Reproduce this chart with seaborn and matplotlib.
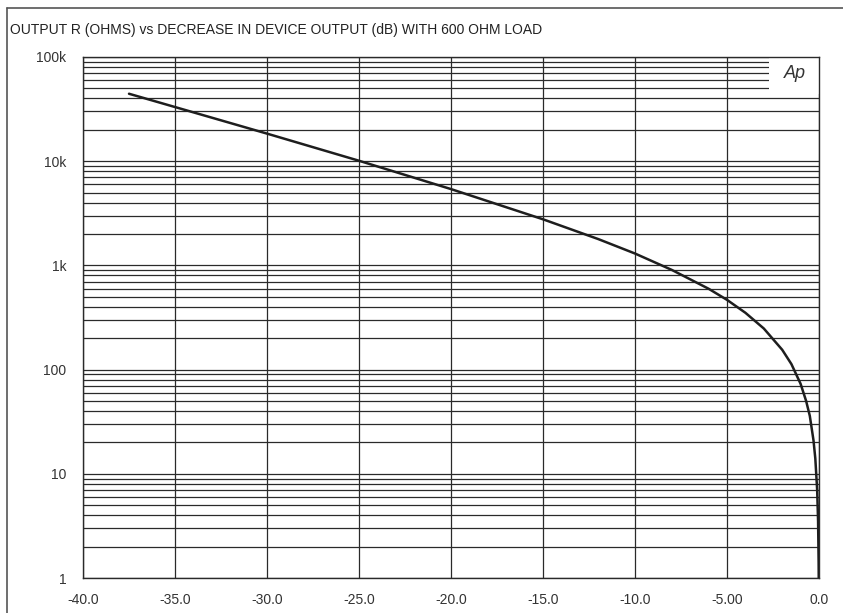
import matplotlib
matplotlib.use("Agg")
import matplotlib.pyplot as plt
from matplotlib.lines import Line2D
from matplotlib.patches import Rectangle
from matplotlib.ticker import FixedLocator, LogLocator, NullFormatter
import seaborn as sns
import pandas as pd

# Decrease in device output (dB) and the source resistance (ohms) that causes it
level_db = [-37.5, -35.0, -30.0, -25.0, -20.0, -15.0, -12.0, -10.0, -8.0, -6.0,
            -5.0, -4.0, -3.0, -2.0, -1.5, -1.0, -0.7, -0.5, -0.3, -0.2,
            -0.1, -0.05, -0.02, -0.0145]
output_r = [44400, 33100, 18400, 10100, 5400, 2770, 1790, 1300, 905, 597,
            467, 351, 248, 155, 113, 73, 50, 36, 21, 14,
            7.0, 3.5, 1.4, 1.0]

x_ticks = [-40, -35, -30, -25, -20, -15, -10, -5, 0]
x_labels = ["-40.0", "-35.0", "-30.0", "-25.0", "-20.0", "-15.0", "-10.0", "-5.00", "0.0"]
y_ticks = [1, 10, 100, 1000, 10000, 100000]
y_labels = ["1", "10", "100", "1k", "10k", "100k"]

title = "OUTPUT R (OHMS) vs DECREASE IN DEVICE OUTPUT (dB) WITH 600 OHM LOAD"

sns.set_theme(style="white")
plt.rcParams["font.family"] = ["Liberation Sans", "DejaVu Sans"]

W, H = 843, 613
fig = plt.figure(figsize=(W / 100, H / 100), dpi=100)
fig.patch.set_facecolor("white")

L, R, T, B = 83, 819, 57, 578
ax = fig.add_axes([L / W, (H - B) / H, (R - L) / W, (B - T) / H])

df = pd.DataFrame({"dB": level_db, "R": output_r})
sns.lineplot(data=df, x="dB", y="R", ax=ax, color="#1e1e1e", linewidth=1.8,
             estimator=None, sort=False, zorder=3)

ax.set_yscale("log")
ax.set_xlim(-40, 0)
ax.set_ylim(1, 1e5)

ax.xaxis.set_major_locator(FixedLocator(x_ticks))
ax.set_xticklabels(x_labels)
ax.yaxis.set_major_locator(FixedLocator(y_ticks))
ax.set_yticklabels(y_labels)
ax.yaxis.set_minor_locator(LogLocator(base=10, subs=range(2, 10)))
ax.yaxis.set_minor_formatter(NullFormatter())

ax.tick_params(axis="both", which="both", length=0, labelsize=10,
               labelcolor="#333333")
ax.tick_params(axis="x", pad=11)
ax.tick_params(axis="y", pad=12)
ax.set_xlabel("")
ax.set_ylabel("")

ax.set_axisbelow(True)
ax.grid(True, which="both", axis="y", color="#2a2a2a", linewidth=0.9)
ax.grid(True, which="major", axis="x", color="#2a2a2a", linewidth=0.9)

for s in ax.spines.values():
    s.set_visible(True)
    s.set_color("#2a2a2a")
    s.set_linewidth(1.0)

# logo block in the upper right corner
bx0 = (769 - L) / (R - L)
by0 = (B - 94) / (B - T)
ax.add_patch(Rectangle((bx0, by0), 1 - bx0, 1 - by0, transform=ax.transAxes,
                       facecolor="white", edgecolor="none", zorder=1))
ax.text((795 - L) / (R - L), (B - 74) / (B - T), "Ap", transform=ax.transAxes,
        ha="center", va="center", fontsize=13, style="italic",
        color="#333333", fontweight="light", zorder=4)

fig.text(10 / W, 1 - 30 / H, title, ha="left", va="center",
         fontsize=10, color="#222222")

# outer frame
fig.add_artist(Line2D([7 / W, 1], [1 - 8 / H, 1 - 8 / H], color="#555555", linewidth=1.2))
fig.add_artist(Line2D([7 / W, 7 / W], [0, 1 - 8 / H], color="#555555", linewidth=1.2))

fig.savefig("out.png", dpi=100, facecolor="white")
